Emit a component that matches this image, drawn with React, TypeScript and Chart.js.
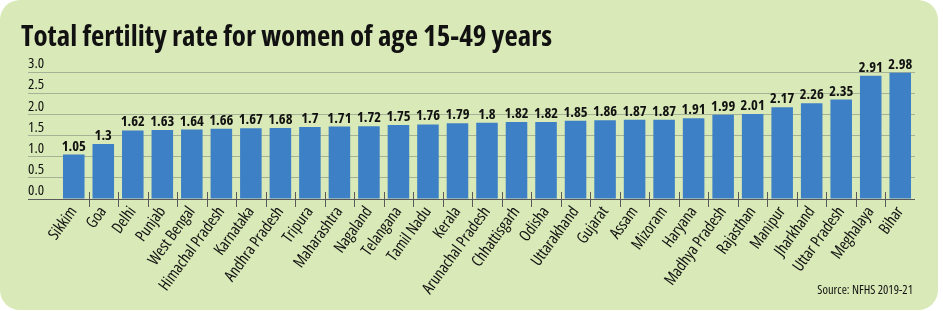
import React, { useEffect, useRef } from "react";
import { Chart, registerables } from "chart.js";

Chart.register(...registerables);

const categories: string[] = [
  "Sikkim", "Goa", "Delhi", "Punjab", "West Bengal", "Himachal Pradesh", "Karnataka",
  "Andhra Pradesh", "Tripura", "Maharashtra", "Nagaland", "Telangana", "Tamil Nadu",
  "Kerala", "Arunachal Pradesh", "Chhattisgarh", "Odisha", "Uttarakhand", "Gujarat",
  "Assam", "Mizoram", "Haryana", "Madhya Pradesh", "Rajasthan", "Manipur", "Jharkhand",
  "Uttar Pradesh", "Meghalaya", "Bihar",
];

const fertilityRates: number[] = [
  1.05, 1.3, 1.62, 1.63, 1.64, 1.66, 1.67, 1.68, 1.7, 1.71, 1.72, 1.75, 1.76, 1.79,
  1.8, 1.82, 1.82, 1.85, 1.86, 1.87, 1.87, 1.91, 1.99, 2.01, 2.17, 2.26, 2.35, 2.91, 2.98,
];

const yMin = 0;
const yMax = 3;
const yStep = 0.5;

const titleText = "Total fertility rate for women of age 15-49 years";
const sourceText = "Source: NFHS 2019-21";

const FONT = "'Open Sans', 'DejaVu Sans Condensed', sans-serif";
const BG = "#d9e9b7";
const BAR = "#3e80c5";
const INK = "#111111";

const W = 943;
const H = 311;

const backgroundPlugin = {
  id: "roundedBg",
  beforeDraw(chart: any) {
    const ctx = chart.ctx;
    ctx.save();
    ctx.fillStyle = "#ffffff";
    ctx.fillRect(0, 0, W, H);
    ctx.fillStyle = BG;
    ctx.beginPath();
    (ctx as any).roundRect(0, 0, 938, 310, 20);
    ctx.fill();
    ctx.restore();
  },
};

const textPlugin = {
  id: "titleAndSource",
  afterDraw(chart: any) {
    const ctx = chart.ctx;
    ctx.save();
    ctx.fillStyle = INK;
    ctx.textBaseline = "alphabetic";
    ctx.textAlign = "left";
    ctx.font = `bold condensed 29px ${FONT}`;
    ctx.fillText(titleText, 21, 46);
    ctx.textAlign = "right";
    ctx.font = `condensed 12.5px ${FONT}`;
    ctx.fillText(sourceText, 913, 294);
    ctx.restore();
  },
};

const valueLabelPlugin = {
  id: "valueLabels",
  afterDatasetsDraw(chart: any) {
    const ctx = chart.ctx;
    const meta = chart.getDatasetMeta(0);
    const data = chart.data.datasets[0].data as number[];
    ctx.save();
    ctx.font = `bold condensed 14.5px ${FONT}`;
    ctx.fillStyle = INK;
    ctx.textAlign = "center";
    ctx.textBaseline = "alphabetic";
    meta.data.forEach((bar: any, i: number) => {
      ctx.fillText(String(data[i]), bar.x, bar.y - 4);
    });
    ctx.restore();
  },
};

const xTickPlugin = {
  id: "xTickMarks",
  afterDatasetsDraw(chart: any) {
    const ctx = chart.ctx;
    const xs = chart.scales.x;
    const bottom = chart.chartArea.bottom;
    ctx.save();
    ctx.strokeStyle = "#5a5a5a";
    ctx.lineWidth = 1;
    for (let i = 0; i < categories.length - 1; i++) {
      const x = Math.round((xs.getPixelForValue(i) + xs.getPixelForValue(i + 1)) / 2) + 0.5;
      ctx.beginPath();
      ctx.moveTo(x, bottom - 7);
      ctx.lineTo(x, bottom + 8);
      ctx.stroke();
    }
    ctx.restore();
  },
};

export default function App() {
  const canvasRef = useRef<HTMLCanvasElement | null>(null);

  useEffect(() => {
    document.body.style.margin = "0";
    const canvas = canvasRef.current;
    if (!canvas) return;
    const chart = new Chart(canvas, {
      type: "bar",
      data: {
        labels: categories,
        datasets: [
          {
            data: fertilityRates,
            backgroundColor: BAR,
            borderWidth: 0,
            categoryPercentage: 1,
            barPercentage: 0.73,
          },
        ],
      },
      options: {
        responsive: false,
        animation: false,
        devicePixelRatio: 1,
        layout: { padding: { left: 28, right: 28, top: 72, bottom: 0 } },
        plugins: {
          legend: { display: false },
          tooltip: { enabled: false },
          title: { display: false },
        },
        scales: {
          x: {
            grid: { display: false, drawTicks: false },
            border: { display: false },
            ticks: {
              autoSkip: false,
              minRotation: 54,
              maxRotation: 54,
              padding: 4,
              color: INK,
              font: { family: FONT, size: 16, weight: "condensed" },
            },
            afterFit: (s: any) => {
              s.height = 112;
            },
          },
          y: {
            min: yMin,
            max: yMax,
            ticks: {
              stepSize: yStep,
              crossAlign: "far",
              labelOffset: -8,
              padding: 0,
              color: INK,
              font: { family: FONT, size: 15, weight: "condensed" },
              callback: (v: any) => Number(v).toFixed(1),
            },
            grid: {
              color: (c: any) => (c.tick && c.tick.value === 0 ? "#5a5a5a" : "#a4b396"),
              tickLength: 31,
              drawTicks: true,
            },
            border: { display: false },
            afterFit: (s: any) => {
              s.width = 31;
            },
          },
        },
      },
      plugins: [backgroundPlugin, valueLabelPlugin, xTickPlugin, textPlugin],
    } as any);
    return () => chart.destroy();
  }, []);

  return (
    <div style={{ position: "relative", width: W, height: H, overflow: "hidden" }}>
      <canvas ref={canvasRef} width={W} height={H} style={{ position: "absolute", left: 0, top: 0 }} />
    </div>
  );
}
